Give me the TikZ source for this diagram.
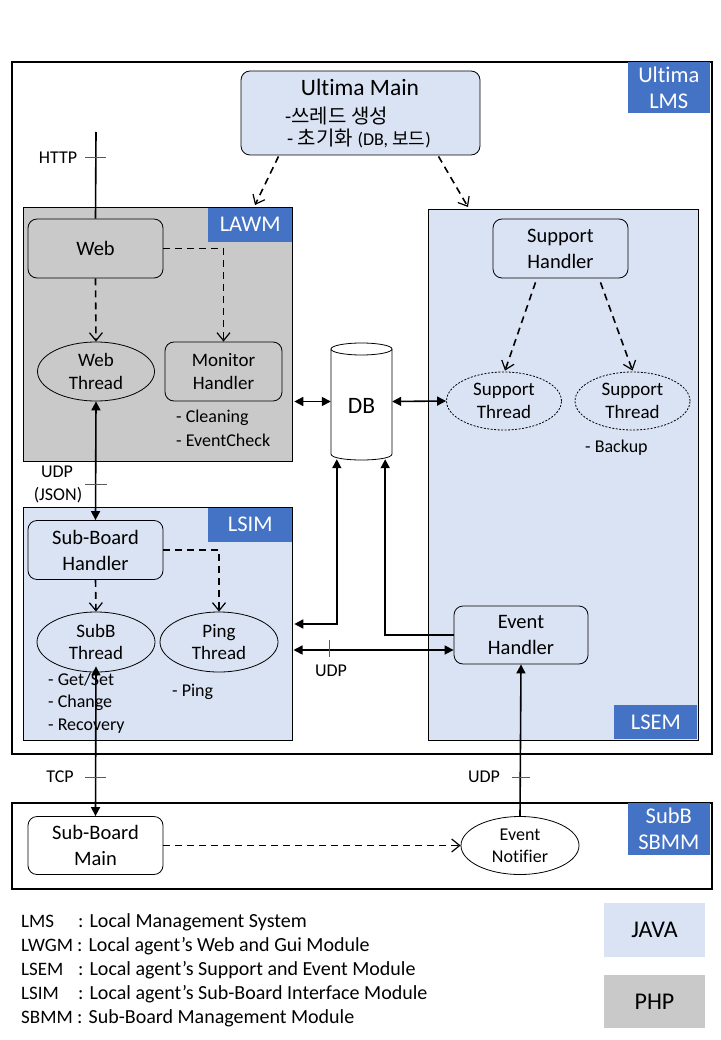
\documentclass[tikz,border=0pt]{standalone}
\usepackage{fontspec}
\setmainfont{Carlito}[Ligatures=NoCommon]
\newfontfamily\kr{Noto Sans CJK KR}
\usetikzlibrary{arrows.meta,shapes.geometric,calc}
\definecolor{lblue}{HTML}{DAE3F3}
\definecolor{mblue}{HTML}{4472C4}
\definecolor{lgray}{HTML}{C9C9C9}
\begin{document}
\begin{tikzpicture}[x=1pt,y=-1pt,
  region/.style={draw=black, line width=0.8pt, anchor=north west, inner sep=0, minimum width=#1},
  tag/.style={fill=mblue, text=white, font=\fontsize{22.5}{26}\selectfont, align=center, inner sep=0},
  rbox/.style={draw=black, line width=0.8pt, rounded corners=9pt, align=center, font=\fontsize{20.5}{26}\selectfont, inner sep=0, minimum width=135, minimum height=59},
  ell/.style={draw=black, line width=0.8pt, ellipse, inner sep=-3pt, align=center, font=\fontsize{19}{22.5}\selectfont, minimum width=117, minimum height=59},
  note/.style={anchor=west, inner sep=0, font=\fontsize{18}{20}\selectfont},
  proto/.style={inner sep=0, font=\fontsize{18}{20}\selectfont},
  tickmark/.style={draw=gray!70!black, line width=0.8pt},
  dasharr/.style={dash pattern=on 7pt off 5pt, line width=1.6pt, -{Straight Barb[length=8pt,width=13pt,line width=1.2pt]}},
  solid1/.style={line width=1.6pt, -{Triangle[length=9pt,width=9pt]}},
  both/.style={line width=1.6pt, {Triangle[length=9pt,width=9pt]}-{Triangle[length=9pt,width=9pt]}},
  plainline/.style={line width=1.6pt},
  legend/.style={anchor=base west, inner sep=0, font=\fontsize{20}{24}\selectfont},
  abbr/.style={anchor=base west, inner sep=0, font=\fontsize{19}{24}\selectfont}
]
\useasboundingbox (0,0) rectangle (720,1040);
\fill[white] (0,0) rectangle (720,1040);

% regions
\node[region=700, minimum height=692, line width=2pt] (lms) at (11,61) {};
\node[region=269, minimum height=254, fill=lgray] (lawm) at (23,207) {};
\node[region=270, minimum height=531, fill=lblue] (lsem) at (428,209) {};
\node[region=269, minimum height=233, fill=lblue] (lsim) at (23,507) {};
\node[region=700, minimum height=86, line width=2pt] (sbmm) at (11,802) {};

% tags
\node[tag, minimum width=82, minimum height=51, anchor=north east] (tlms) at (710,62) {Ultima\\LMS};
\node[tag, minimum width=84, minimum height=34, anchor=north west] (tlawm) at (208,207.4) {LAWM};
\node[tag, minimum width=84, minimum height=34, anchor=north west] (tlsim) at (208,507.4) {LSIM};
\node[tag, minimum width=83, minimum height=34, anchor=south east] (tlsem) at (697.6,739.6) {LSEM};
\node[tag, minimum width=82, minimum height=52, anchor=north east] (tsbmm) at (710,803) {SubB\\SBMM};

% Ultima Main
\node[rbox, fill=lblue, minimum width=239, minimum height=84] (um) at (360.5,113) {};
\node[inner sep=0, font=\fontsize{23.5}{26}\selectfont] (umt) at (360,87) {Ultima Main};
\node[anchor=base west, inner sep=0, font=\fontsize{20}{22}\selectfont] (um1) at (285,124) {-{\kr 쓰레드 생성}};
\node[anchor=base west, inner sep=0, font=\fontsize{20}{22}\selectfont] (um2) at (287,146) {- {\kr 초기화} {\fontsize{18}{19}\selectfont (DB, {\kr 보드})}};

% LAWM
\node[rbox, fill=lgray] (web) at (95.5,248.5) {Web};
\node[ell, fill=lgray] (wt) at (96,371.5) {Web\\Thread};
\node[rbox, fill=lgray, minimum width=117, font=\fontsize{19}{23}\selectfont] (mh) at (223.5,371.5) {Monitor\\Handler};
\node[note] (n1) at (176,418) {- Cleaning};
\node[note] (n2) at (176,440) {- EventCheck};

% DB
\node[inner sep=0, minimum width=61, minimum height=117] (db) at (361.5,401.5) {};
\fill[white] (331,349) -- (331,454) .. controls (331,462) and (392,462) .. (392,454) -- (392,349) -- cycle;
\draw[line width=0.8pt] (331,349) -- (331,454) .. controls (331,462) and (392,462) .. (392,454) -- (392,349);
\draw[line width=0.8pt, fill=white] (361.5,349) ellipse [x radius=30.5pt, y radius=6pt];
\node[inner sep=0, font=\fontsize{23.5}{26}\selectfont] (dbt) at (361.5,406) {DB};

% LSEM
\node[rbox, fill=lblue] (sh) at (560.5,248.5) {Support\\Handler};
\node[ell, fill=lblue, dashed, dash pattern=on 2pt off 1.5pt, minimum width=115, minimum height=58] (st1) at (504,401) {Support\\Thread};
\node[ell, fill=lblue, dashed, dash pattern=on 2pt off 1.5pt, minimum width=115, minimum height=58] (st2) at (632.5,401) {Support\\Thread};
\node[note] (n3) at (585,448) {- Backup};
\node[rbox, fill=lblue, minimum width=134, minimum height=58] (eh) at (521,635) {Event\\Handler};

% LSIM
\node[rbox, fill=lblue] (sbh) at (95.5,550) {Sub-Board\\Handler};
\node[ell, fill=lblue, minimum width=118, minimum height=60] (sbt) at (96,642) {SubB\\Thread};
\node[ell, fill=lblue, minimum width=118, minimum height=60] (pt) at (219,642) {Ping\\Thread};
\node[note] (n4) at (48,680) {- Get/Set};
\node[note] (n5) at (48,703) {- Change};
\node[note] (n6) at (48,726) {- Recovery};
\node[note] (n7) at (172,692) {- Ping};

% SBMM
\node[rbox, fill=white, minimum height=58] (sbm) at (95.5,845.5) {Sub-Board\\Main};
\node[ell, fill=white, minimum width=118, minimum height=58, font=\fontsize{18}{22}\selectfont] (en) at (520,845.5) {Event\\Notifier};

% connectors
\coordinate (httptop) at (96,132);
\draw[plainline] (httptop) -- (web.north);
\draw[tickmark] (85,157) -- (106,157);
\node[proto] (lhttp) at (58,158) {HTTP};

\draw[dasharr] ($(um.south)+(-82,1)$) -- ($(lawm.north west)+(232,-2)$);
\draw[dasharr] ($(um.south)+(78,1)$) -- ($(lsem.north west)+(40,-2)$);

\draw[dasharr] (web.south) -- (wt.north);
\draw[dasharr] (web.east) -- (web.east -| mh.north) -- (mh.north);

\draw[both] (wt.south) -- (sbh.north);
\draw[tickmark] (85,484) -- (107,484);
\node[proto] (ludp1) at (57,472) {UDP};
\node[proto] (ljson) at (58,495) {(JSON)};

\draw[both] ($(db.west -| lawm.east)+(1.5,0)$) -- (db.west);
\draw[both] (db.east) -- (st1.west);

\draw[dasharr] ($(sh.south)+(-25,4)$) -- ($(st1.north)+(1,-1)$);
\draw[dasharr] ($(sh.south)+(40,4)$) -- ($(st2.north)+(0,-1)$);

\draw[dasharr] (sbh.south) -- (sbt.north);
\draw[dasharr] (sbh.east) -| (pt.north);

\draw[both] ($(db.south west)+(6,-1)$) |- ($(lsim.north east)+(1.5,117)$);
\draw[solid1] (eh.west) -| ($(db.south east)+(-7,-1)$);

\coordinate (udpl) at (293.5,650);
\draw[both] (udpl) -- (udpl -| eh.west);
\draw[tickmark] (329,640) -- (329,657);
\node[proto] (ludp2) at (331,671) {UDP};

\draw[both] ($(sbt.south)+(0,-6)$) -- (sbm.north);
\draw[tickmark] (85,777) -- (106,777);
\node[proto] (ltcp) at (60,777) {TCP};

\draw[solid1] (en.north) -- (eh.south);
\draw[tickmark] (512,777) -- (530,777);
\node[proto] (ludp3) at (484,777) {UDP};

\draw[dasharr] (sbm.east) -- (en.west);

% legend
\node[abbr] (a1) at (21,927.5) {LMS};
\node[abbr] (a2) at (21,951.5) {LWGM};
\node[abbr] (a3) at (21,975.5) {LSEM};
\node[abbr] (a4) at (21,999.5) {LSIM};
\node[abbr] (a5) at (21,1023.5) {SBMM};
\node[legend] (b1) at (78,927.5) {: Local Management System};
\node[legend] (b2) at (77,951.5) {: Local agent’s Web and Gui Module};
\node[legend] (b3) at (78,975.5) {: Local agent’s Support and Event Module};
\node[legend] (b4) at (78,999.5) {: Local agent’s Sub-Board Interface Module};
\node[legend] (b5) at (77,1023.5) {: Sub-Board Management Module};

\node[fill=lblue, minimum width=101, minimum height=54, inner sep=0, font=\fontsize{24}{26}\selectfont] (java) at (654.5,930) {JAVA};
\node[fill=lgray, minimum width=101, minimum height=53, inner sep=0, font=\fontsize{24}{26}\selectfont] (php) at (654.5,1001.5) {PHP};
\end{tikzpicture}
\end{document}
